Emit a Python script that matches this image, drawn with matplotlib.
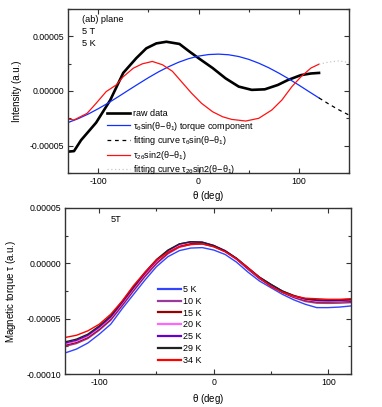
import matplotlib
matplotlib.use("Agg")
import matplotlib.pyplot as plt
from matplotlib.ticker import MultipleLocator, FormatStrFormatter

plt.rcParams["font.family"] = ["Liberation Sans", "DejaVu Sans"]
plt.rcParams["mathtext.fontset"] = "custom"
plt.rcParams["mathtext.rm"] = "Liberation Sans"
plt.rcParams["mathtext.it"] = "Liberation Sans"
plt.rcParams["mathtext.bf"] = "Liberation Sans:bold"
plt.rcParams["axes.unicode_minus"] = False

# --- top panel: (ab) plane, 5 T, 5 K -----------------------------------
raw_theta = [-130, -124, -117, -102, -88, -75, -62, -52, -42, -32, -19, -9, 0,
             14, 27, 40, 53, 66, 79, 89, 102, 112, 120]
raw_val = [-5.55, -5.5, -4.5, -2.9, -0.85, 1.65, 3.0, 3.9, 4.35, 4.5, 4.3, 3.6,
           3.0, 2.1, 1.15, 0.4, 0.1, 0.15, 0.55, 1.0, 1.45, 1.6, 1.65]

sin_theta = [-130, -120, -110, -100, -90, -80, -70, -60, -50, -40, -30, -20,
             -10, 0, 10, 20, 30, 40, 50, 60, 70, 80, 90, 100, 110, 120]
sin_val = [-2.89, -2.54, -2.12, -1.63, -1.10, -0.53, 0.06, 0.64, 1.21, 1.74,
           2.21, 2.62, 2.95, 3.19, 3.33, 3.37, 3.31, 3.15, 2.89, 2.54, 2.12,
           1.63, 1.10, 0.53, -0.06, -0.64]

fit1_theta = [120, 130, 140, 150]
fit1_val = [-0.64, -1.21, -1.74, -2.21]

sin2_theta = [-130, -124, -111, -102, -92, -82, -75, -65, -56, -46, -36, -26,
              -17, -7, 3, 14, 24, 33, 47, 60, 73, 83, 93, 102, 112, 120]
sin2_val = [-2.57, -2.65, -2.05, -1.13, -0.06, 0.55, 1.3, 2.08, 2.48, 2.7, 2.4,
            1.8, 0.85, -0.2, -1.13, -1.9, -2.36, -2.6, -2.75, -2.5, -1.74,
            -0.83, 0.4, 1.3, 2.1, 2.45]

fit2_theta = [120, 130, 140, 150]
fit2_val = [2.45, 2.65, 2.75, 2.6]

# --- bottom panel: magnetic torque at 5T for several temperatures ------
theta = [-130, -120, -110, -100, -90, -80, -70, -60, -50, -40, -30, -20, -10,
         0, 10, 20, 30, 40, 50, 60, 70, 80, 90, 100, 110, 120]
temps = ["5 K", "10 K", "15 K", "20 K", "25 K", "29 K", "34 K"]
colors = ["#3344ff", "#9a3a9a", "#990000", "#ff66ff", "#6600cc", "#222222",
          "#ff0000"]
torque_5K = [-8.1, -7.75, -7.2, -6.4, -5.5, -4.1, -2.8, -1.5, -0.3, 0.6, 1.15,
             1.38, 1.42, 1.2, 0.8, 0.1, -0.8, -1.6, -2.2, -2.8, -3.3, -3.7,
             -4.0, -4.0, -3.95, -3.85]
torque_10K = [-7.5, -7.25, -6.8, -6.05, -5.15, -3.85, -2.5, -1.2, -0.05, 0.85,
              1.45, 1.7, 1.75, 1.5, 1.05, 0.35, -0.55, -1.4, -2.05, -2.65,
              -3.1, -3.45, -3.6, -3.62, -3.6, -3.55]
torque_15K = [-7.4, -7.15, -6.7, -5.95, -5.05, -3.75, -2.4, -1.1, 0.05, 0.95,
              1.55, 1.8, 1.8, 1.55, 1.1, 0.4, -0.5, -1.35, -2.0, -2.6, -3.05,
              -3.35, -3.5, -3.5, -3.48, -3.45]
torque_20K = [-7.3, -7.05, -6.6, -5.85, -4.95, -3.65, -2.3, -1.0, 0.15, 1.05,
              1.65, 1.9, 1.88, 1.6, 1.12, 0.42, -0.45, -1.3, -1.95, -2.55,
              -3.0, -3.28, -3.42, -3.42, -3.4, -3.35]
torque_25K = [-7.2, -6.95, -6.5, -5.75, -4.85, -3.55, -2.2, -0.9, 0.25, 1.15,
              1.75, 1.95, 1.92, 1.62, 1.15, 0.45, -0.42, -1.25, -1.9, -2.5,
              -2.95, -3.22, -3.35, -3.38, -3.35, -3.3]
torque_29K = [-7.1, -6.85, -6.4, -5.65, -4.75, -3.45, -2.1, -0.8, 0.35, 1.2,
              1.75, 1.95, 1.9, 1.6, 1.12, 0.45, -0.4, -1.25, -1.9, -2.5, -2.9,
              -3.2, -3.3, -3.32, -3.3, -3.25]
torque_34K = [-6.7, -6.5, -6.1, -5.5, -4.6, -3.4, -2.0, -0.8, 0.3, 1.0, 1.5,
              1.7, 1.75, 1.5, 1.05, 0.4, -0.4, -1.3, -2.1, -2.6, -2.95, -3.15,
              -3.2, -3.25, -3.25, -3.2]
torques = [torque_5K, torque_10K, torque_15K, torque_20K, torque_25K,
           torque_29K, torque_34K]

SCALE = 1e-5


def style_axes(ax, xminor, ymajor, yminor):
    """ Origin-like axes: ticks inward on all four sides """
    ax.xaxis.set_major_locator(MultipleLocator(100))
    ax.xaxis.set_minor_locator(MultipleLocator(xminor))
    ax.yaxis.set_major_locator(MultipleLocator(ymajor))
    ax.yaxis.set_minor_locator(MultipleLocator(yminor))
    ax.yaxis.set_major_formatter(FormatStrFormatter("%.5f"))
    ax.tick_params(which="both", direction="in", top=True, right=True,
                   labelsize=6.3, color="#333333", width=0.8, pad=3)
    ax.tick_params(which="major", length=3.5)
    ax.tick_params(which="minor", length=2.5)
    for sp in ax.spines.values():
        sp.set_linewidth(1.0)
        sp.set_color("#333333")


def plot_top(fig):
    ax = fig.add_axes([0.178, 0.575, 0.736, 0.403])
    ax.plot(raw_theta, [v * SCALE for v in raw_val], color="black", lw=1.9,
            label="raw data")
    ax.plot(sin_theta, [v * SCALE for v in sin_val], color="#1030ff", lw=0.9,
            label=r"$\tau_\theta$sin($\theta$$-$$\theta_1$) torque component")
    ax.plot(fit1_theta, [v * SCALE for v in fit1_val], color="black", lw=0.9,
            ls=(0, (3, 3)),
            label=r"fitting curve $\tau_\theta$sin($\theta$$-$$\theta_1$)")
    ax.plot(sin2_theta, [v * SCALE for v in sin2_val], color="#ff1010", lw=0.9,
            label=r"$\tau_{2\theta}$sin2($\theta$$-$$\theta_1$)")
    ax.plot(fit2_theta, [v * SCALE for v in fit2_val], color="#c8c8c8", lw=0.9,
            ls=(0, (1, 2)),
            label=r"fitting curve $\tau_{2\theta}$sin2($\theta$$-$$\theta_1$)")
    ax.set_xlim(-130, 150)
    ax.set_ylim(-7.5e-5, 7.5e-5)
    style_axes(ax, 50, 5e-5, 2.5e-5)
    ax.set_xlabel(r"$\theta$ (deg)", fontsize=7)
    ax.set_ylabel("Intensity (a.u.)", fontsize=7)
    ax.xaxis.set_label_coords(0.5, -0.10)
    ax.yaxis.set_label_coords(-0.162, 0.5)
    for txt, y in zip(["(ab) plane", "5 T", "5 K"], [0.933, 0.860, 0.787]):
        ax.text(0.05, y, txt, transform=ax.transAxes, fontsize=6.6,
                va="center", ha="left")
    ax.legend(loc="upper left", bbox_to_anchor=(107 / 382, 1 - 109 / 407),
              bbox_transform=fig.transFigure, frameon=False, fontsize=6.5,
              handlelength=2.6, handletextpad=0.3, labelspacing=0.18,
              borderpad=0, borderaxespad=0)


def plot_bottom(fig):
    ax = fig.add_axes([0.170, 0.081, 0.749, 0.408])
    for lab, col, vals in zip(temps, colors, torques):
        ax.plot(theta, [v * SCALE for v in vals], color=col, lw=1.0,
                label=lab)
    ax.set_xlim(-130, 120)
    ax.set_ylim(-1e-4, 5e-5)
    style_axes(ax, 50, 5e-5, 2.5e-5)
    ax.set_xlabel(r"$\theta$ (deg)", fontsize=7)
    ax.set_ylabel(r"Magnetic torque $\tau$ (a.u.)", fontsize=7)
    ax.xaxis.set_label_coords(0.5, -0.11)
    ax.yaxis.set_label_coords(-0.163, 0.5)
    ax.text(0.16, 0.93, "5T", transform=ax.transAxes, fontsize=6.6,
            va="center", ha="left")
    leg = ax.legend(loc="upper left",
                    bbox_to_anchor=(158 / 382, 1 - 285 / 407),
                    bbox_transform=fig.transFigure, frameon=False,
                    fontsize=6.5, handlelength=2.5, handletextpad=0.3,
                    labelspacing=0.31, borderpad=0, borderaxespad=0)
    for line in leg.get_lines():
        line.set_linewidth(1.6)


if __name__ == "__main__":
    fig = plt.figure(figsize=(3.82, 4.07), dpi=100)
    plot_top(fig)
    plot_bottom(fig)
    fig.savefig("out.png", dpi=100)
